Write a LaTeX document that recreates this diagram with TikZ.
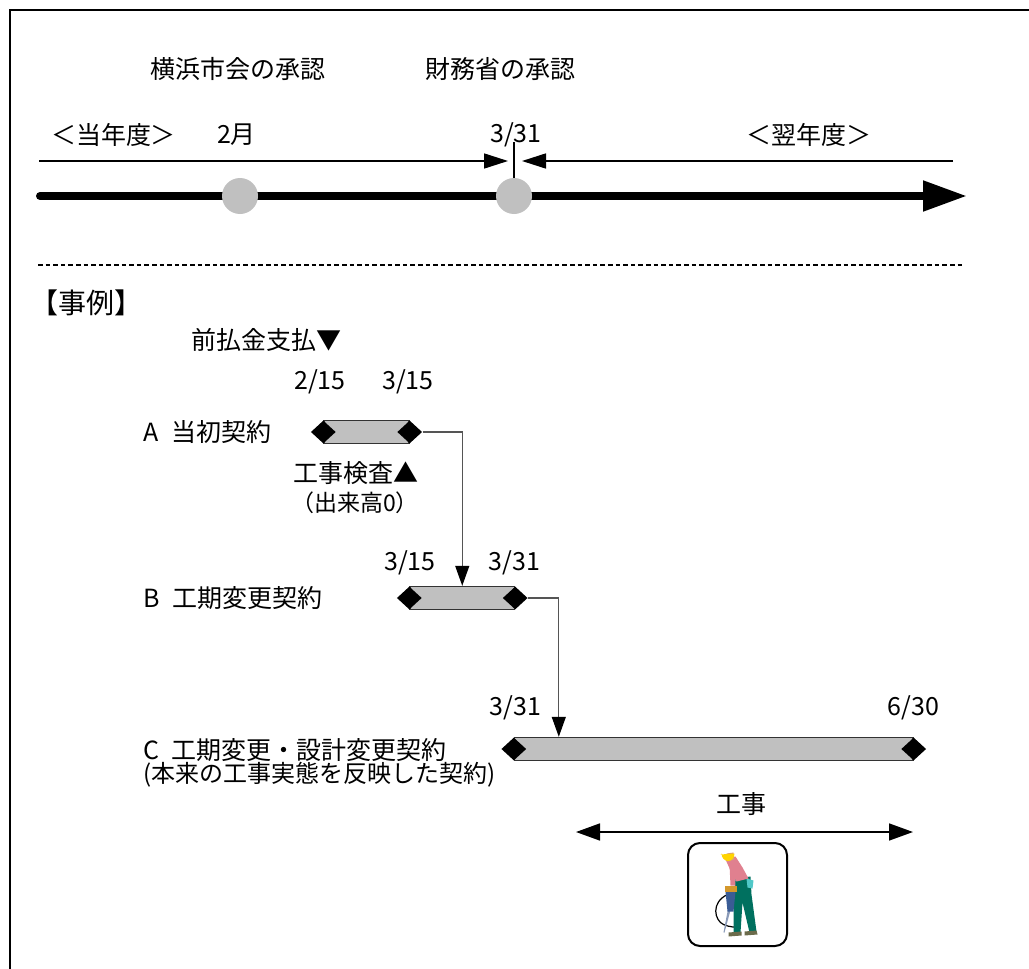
\documentclass[tikz,border=0pt]{standalone}
\usepackage{fontspec}
\setmainfont{Noto Sans CJK JP}
\usepackage{tikz}
\usetikzlibrary{arrows.meta,positioning,shapes.geometric}
\definecolor{msgray}{HTML}{C0C0C0}
\definecolor{linkgray}{HTML}{555555}
\definecolor{wkhelmet}{HTML}{FFD400}
\definecolor{wkskin}{HTML}{D8A078}
\definecolor{wkshirt}{HTML}{E0808F}
\definecolor{wkpants}{HTML}{00705F}
\definecolor{wkgrip}{HTML}{D4982C}
\definecolor{wkdrill}{HTML}{3A5C95}
\definecolor{wkbit}{HTML}{8A9AB8}
\definecolor{wkcloth}{HTML}{50C8C8}
\definecolor{wkshoe}{HTML}{6B6B4B}

\begin{document}
\begin{tikzpicture}[x=0.5pt,y=-0.5pt,
    lbl/.style={font=\fontsize{12.5}{15}\selectfont,inner sep=0pt},
    note/.style={font=\fontsize{11.5}{14}\selectfont,inner sep=0pt},
    milestone/.style={circle,fill=msgray,minimum size=18pt,inner sep=0pt},
    gem/.style={diamond,fill=black,minimum width=12.5pt,minimum height=11.5pt,inner sep=0pt},
    barbox/.style={rectangle,draw=black!80,line width=0.7pt,fill=msgray,minimum height=11.5pt,inner sep=0pt},
    fyspan/.style={line width=0.8pt,-{Triangle[length=12pt,width=7.5pt]}},
    handover/.style={draw=linkgray,line width=0.6pt,-{Triangle[length=10pt,width=7pt,color=black]}}]
  \useasboundingbox (0,0) rectangle (1029,969);
  % outer frame
  \draw[line width=1.1pt] (10,969) -- (10,10) -- (1029,10);

  % fiscal year timeline
  \draw[line width=4pt,line cap=round,-{Triangle[length=22pt,width=14.5pt]}] (40,196) -- (967,196);
  \node[milestone] (council) at (240,196) {};
  \node[milestone] (ministry) at (514,196) {};
  \draw[line width=0.6pt] (ministry.north) -- ++(0,-36) coordinate (fyEnd);
  \coordinate (curStart) at (39,161);
  \coordinate (nextStart) at (953,161);
  \draw[fyspan] (curStart) -- ([xshift=-3pt]fyEnd |- curStart);
  \draw[fyspan] (nextStart) -- ([xshift=4pt]fyEnd |- nextStart);

  \node[lbl] (councilLbl) at (237.5,69) {横浜市会の承認};
  \node[lbl] (ministryLbl) at (500,69) {財務省の承認};
  \node[lbl] (curYear) at (113.5,135) {＜当年度＞};
  \node[lbl] (febLbl) at (236.5,135) {2月};
  \node[lbl] (endLbl) at (516,135) {3/31};
  \node[lbl] (nextYear) at (808.5,135) {＜翌年度＞};

  \draw[dash pattern=on 2.3pt off 1.5pt,line width=0.6pt] (38,265) -- (963,265);

  % case A
  \node[lbl,font=\fontsize{14}{17}\selectfont] (caseHead) at (87,303) {【事例】};
  \node[lbl] (advance) at (266,340) {前払金支払▼};
  \node[lbl] (aFrom) at (320,382) {2/15};
  \node[lbl] (aTo) at (408,382) {3/15};
  \node[lbl,anchor=west] (aName) at (143,432) {A\hspace{0.5em}当初契約};
  \node[barbox,minimum width=42.5pt] (aBar) at (366.5,432) {};
  \node[gem] (aStart) at (aBar.west) {};
  \node[gem] (aEnd) at (aBar.east) {};
  \node[lbl] (inspect) at (356,473) {工事検査▲};
  \node[note] (inspectNote) at (355,503) {（出来高0）};

  % case B
  \node[lbl] (bFrom) at (410,563) {3/15};
  \node[lbl] (bTo) at (514.5,563) {3/31};
  \node[lbl,anchor=west] (bName) at (143,598) {B\hspace{0.5em}工期変更契約};
  \node[barbox,minimum width=52.25pt] (bBar) at (462.25,598) {};
  \node[gem] (bStart) at (bBar.west) {};
  \node[gem] (bEnd) at (bBar.east) {};

  % case C
  \node[lbl] (cFrom) at (515.5,708) {3/31};
  \node[lbl] (cTo) at (913.5,708) {6/30};
  \node[lbl,anchor=west] (cName) at (143,750) {C\hspace{0.5em}工期変更・設計変更契約};
  \node[lbl,font=\fontsize{12}{14}\selectfont,anchor=west] (cNote) at (143,775) {(本来の工事実態を反映した契約)};
  \node[barbox,minimum width=199.25pt] (cBar) at (713.75,749) {};
  \node[gem] (cStart) at (cBar.west) {};
  \node[gem] (cEnd) at (cBar.east) {};

  \draw[handover] (aEnd.east) -| (bBar.north);
  \draw[handover] (bEnd.east) -| ([xshift=22.5pt]cBar.north west);

  % works period
  \node[lbl] (workLbl) at (741,804) {工事};
  \coordinate (workFrom) at (576,832);
  \coordinate (workTo) at (913,832);
  \draw[line width=0.8pt,{Triangle[length=12pt,width=8.5pt]}-{Triangle[length=12pt,width=8.5pt]}] (workFrom) -- (workTo);
  \node[draw,line width=1pt,rounded corners=6pt,minimum width=49.5pt,minimum height=51.5pt,inner sep=0pt] (site) at (737.5,894.5) {};

  % worker with jackhammer
  \begin{scope}[shift={(site.center)}]
    \draw[black,line width=0.6pt] (-10,0) .. controls (-27,8) and (-23,26) .. (-14,30) .. controls (-8,33) and (-2,32) .. (3,34);
    \fill[wkpants] (-2,-16) -- (13,-18) -- (14,0) -- (19,37) -- (12,38) -- (5,8) -- (3,38) -- (-4,38) -- (-4,4) -- cycle;
    \fill[wkcloth] (9,-16) -- (16,-14) -- (15,-6) -- (10,-7) -- cycle;
    \fill[wkshoe] (-9,38) -- (4,37) -- (4,41) -- (-9,42) -- cycle;
    \fill[wkshoe] (7,37) -- (19,36) -- (20,40) -- (7,41) -- cycle;
    \fill[wkbit] (-9,12) -- (-6,12) -- (-13,38) -- (-14,38) -- cycle;
    \fill[wkdrill] (-12,-3) -- (-2,-3) -- (-4,17) -- (-10,17) -- cycle;
    \fill[wkgrip] (-13,-9) -- (-1,-9) -- (-1,-3) -- (-13,-3) -- cycle;
    \fill[wkshirt] (-12,-35) -- (-2,-38) -- (5,-27) -- (11,-16) -- (-1,-13) -- (-7,-24) -- cycle;
    \fill[wkshirt] (-8,-30) -- (-3,-30) -- (-2,-9) -- (-7,-9) -- cycle;
    \fill[wkskin] (-11,-41) -- (-4,-42) -- (-3,-35) -- (-10,-33) -- cycle;
    \fill[wkhelmet] (-17,-40) -- (-3,-41) arc[start angle=0,end angle=180,x radius=6.5,y radius=7.5] -- cycle;
  \end{scope}
\end{tikzpicture}
\end{document}
